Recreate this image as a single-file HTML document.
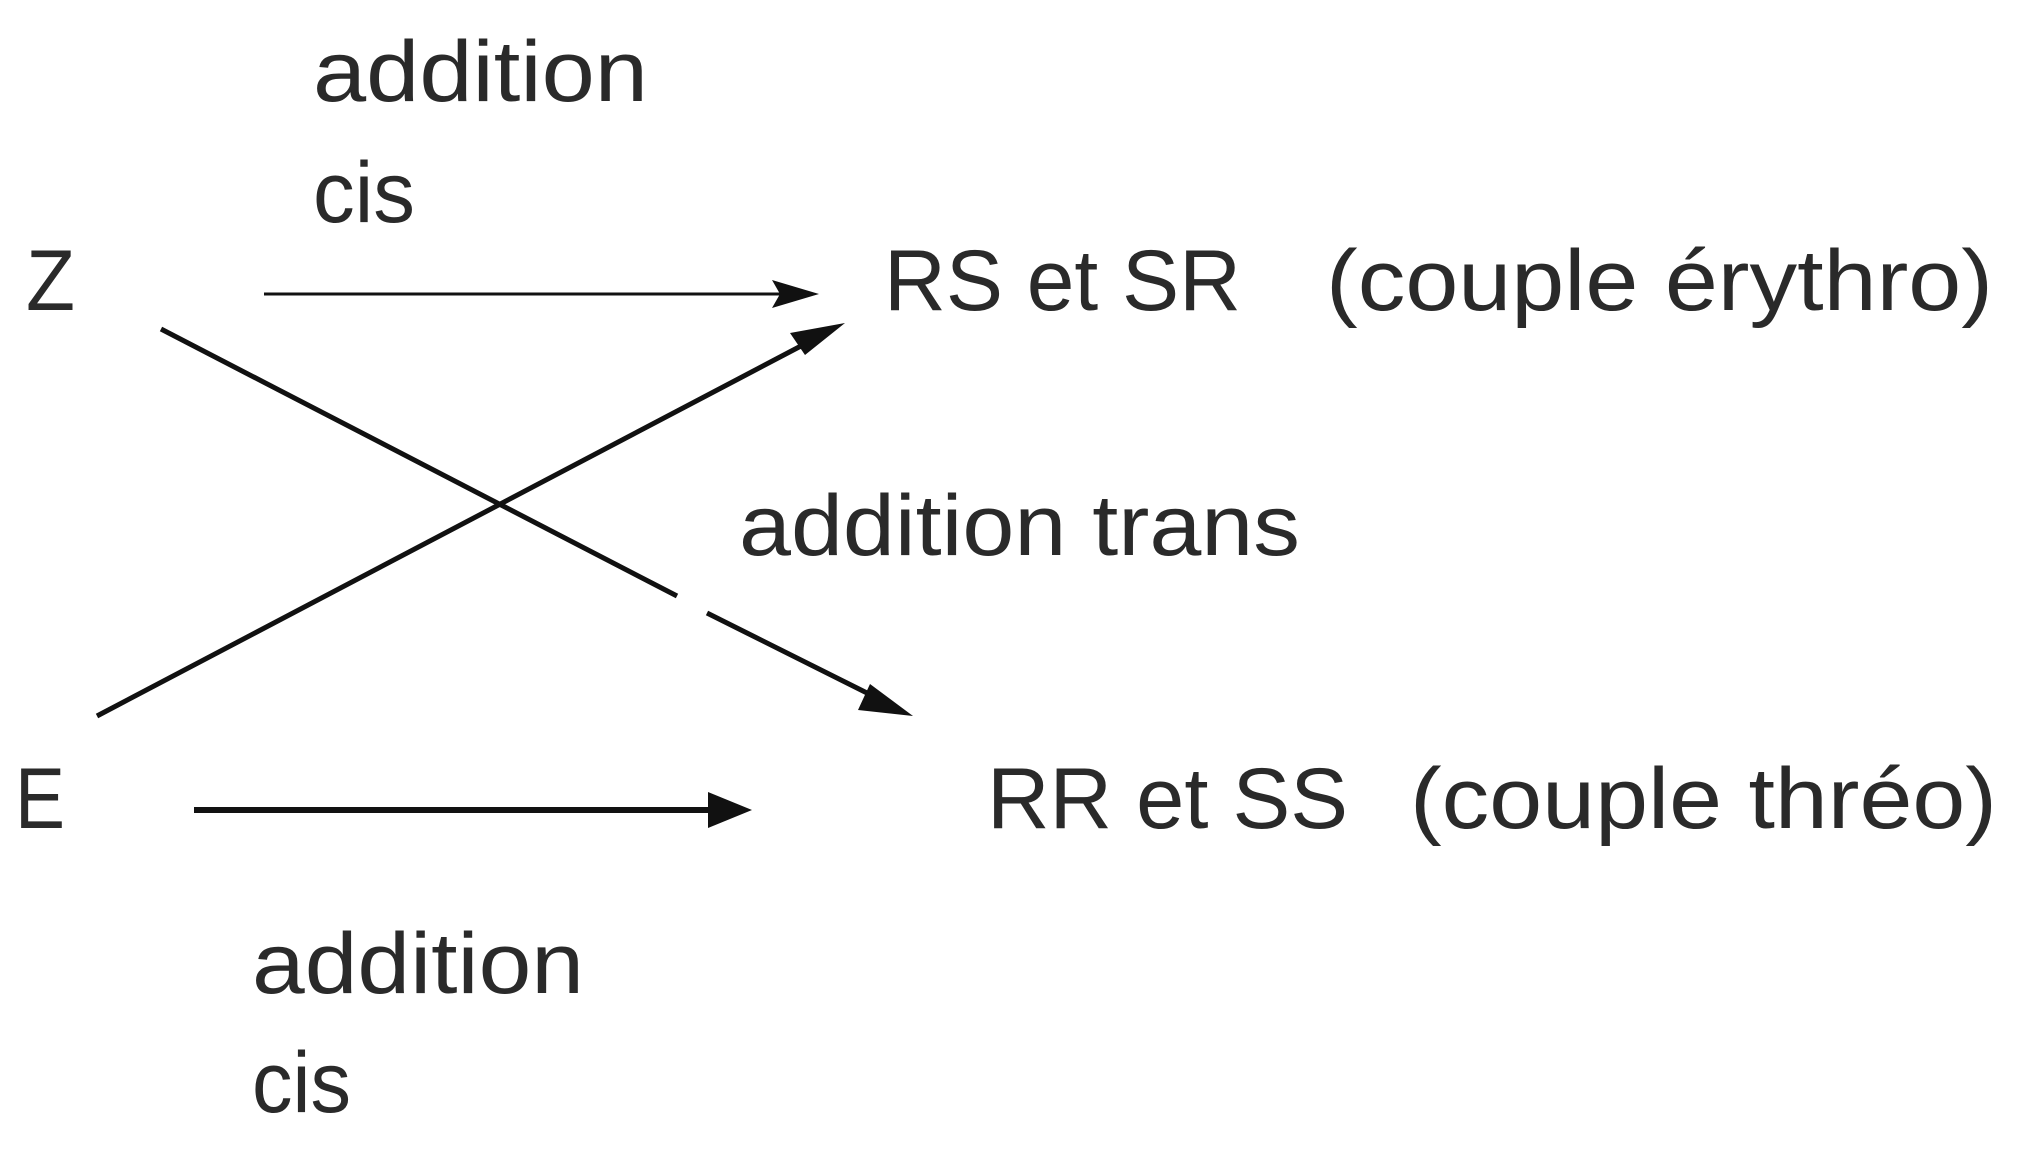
<!DOCTYPE html>
<html><head><meta charset="utf-8"><style>html,body{margin:0;padding:0;background:#fff}svg{display:block}</style></head>
<body>
<svg width="2023" height="1149" viewBox="0 0 2023 1149" xmlns="http://www.w3.org/2000/svg">
<g font-family="Liberation Sans, sans-serif" font-size="86" fill="#2a2a2a">
<text x="313" y="101" textLength="335" lengthAdjust="spacingAndGlyphs">addition</text>
<text x="313" y="222" textLength="102" lengthAdjust="spacingAndGlyphs">cis</text>
<text x="26" y="310" textLength="49" lengthAdjust="spacingAndGlyphs">Z</text>
<text x="884" y="310" textLength="357" lengthAdjust="spacingAndGlyphs">RS  et SR</text>
<text x="1326" y="310" textLength="667" lengthAdjust="spacingAndGlyphs">(couple érythro)</text>
<text x="739" y="555" textLength="561" lengthAdjust="spacingAndGlyphs">addition trans</text>
<text x="15" y="828" textLength="50" lengthAdjust="spacingAndGlyphs">E</text>
<text x="987" y="828" textLength="361" lengthAdjust="spacingAndGlyphs">RR  et SS</text>
<text x="1410" y="828" textLength="587" lengthAdjust="spacingAndGlyphs">(couple thréo)</text>
<text x="252" y="993" textLength="332" lengthAdjust="spacingAndGlyphs">addition</text>
<text x="252" y="1112" textLength="99" lengthAdjust="spacingAndGlyphs">cis</text>
</g>
<g stroke="#111" fill="none">
<line x1="264" y1="294" x2="800" y2="294" stroke-width="3"/>
<line x1="161" y1="329" x2="677" y2="596" stroke-width="5"/>
<line x1="707" y1="613" x2="885" y2="702" stroke-width="5"/>
<line x1="97" y1="716" x2="820" y2="336" stroke-width="5"/>
<line x1="194" y1="810" x2="720" y2="810" stroke-width="6"/>
</g>
<g fill="#111">
<polygon points="819,294 772,280 780,294 772,308"/>
<polygon points="845,323 790,333 805,355"/>
<polygon points="913,716 870,684 858,710"/>
<polygon points="752,810 708,792 708,828"/>
</g>
</svg>
</body></html>
